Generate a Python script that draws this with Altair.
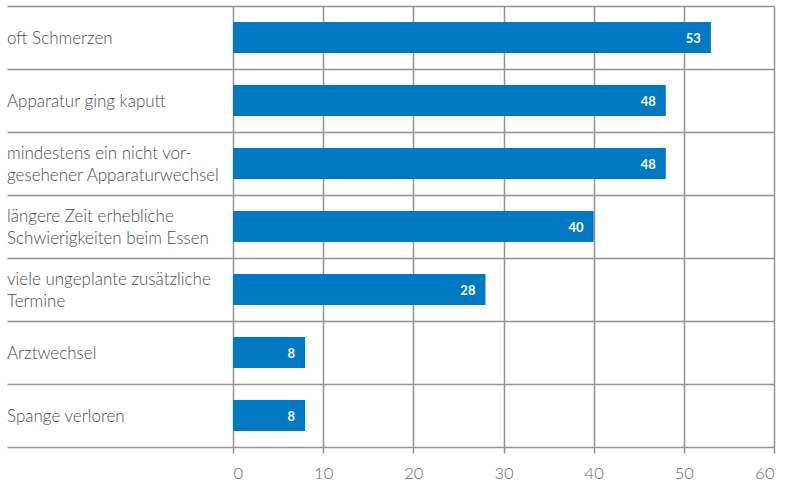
import altair as alt
import pandas as pd

categories = [
    "oft Schmerzen",
    "Apparatur ging kaputt",
    "mindestens ein nicht vor-|gesehener Apparaturwechsel",
    "längere Zeit erhebliche|Schwierigkeiten beim Essen",
    "viele ungeplante zusätzliche|Termine",
    "Arztwechsel",
    "Spange verloren",
]
values = [53, 48, 48, 40, 28, 8, 8]
x_ticks = [0, 10, 20, 30, 40, 50, 60]

df = pd.DataFrame({"cat": categories, "val": values})

GRID = "#939393"
FONT = "Lato"

y_scale = alt.Scale(paddingInner=0, paddingOuter=0)
x_scale = alt.Scale(domain=[0, 60], nice=False)

y_enc = alt.Y(
    "cat:N",
    sort=categories,
    title=None,
    scale=y_scale,
    axis=alt.Axis(
        orient="left",
        tickBand="extent",
        grid=True,
        gridColor=GRID,
        gridWidth=1.5,
        domain=False,
        ticks=True,
        tickSize=226,
        tickColor=GRID,
        tickWidth=1.5,
        labels=False,
    ),
)

x_enc = alt.X(
    "val:Q",
    title=None,
    scale=x_scale,
    axis=alt.Axis(
        values=x_ticks,
        grid=True,
        gridColor=GRID,
        gridWidth=1.5,
        domain=False,
        tickColor=GRID,
        tickSize=6,
        tickWidth=1.5,
        labelPadding=12,
        labelFont=FONT,
        labelFontSize=16.5,
        labelFontWeight=300,
        labelColor="#666666",
    ),
)

bars = alt.Chart(df).mark_bar(color="#0079C2", size=31).encode(x=x_enc, y=y_enc)

text = alt.Chart(df).mark_text(
    align="right", baseline="middle", dx=-10, dy=1,
    color="white", font=FONT, fontSize=13, fontWeight="bold",
).encode(
    x=alt.X("val:Q", scale=x_scale),
    y=alt.Y("cat:N", sort=categories),
    text="val:Q",
)

label_style = dict(
    align="left", baseline="middle", lineBreak="|", lineHeight=22,
    font=FONT, fontSize=17, fontWeight=300, color="#4d4d4d",
)

labels_single = alt.Chart(df).transform_filter(
    "indexof(datum.cat, '|') < 0"
).mark_text(dy=1, **label_style).encode(
    x=alt.value(-226),
    y=alt.Y("cat:N", sort=categories),
    text="cat:N",
)

labels_double = alt.Chart(df).transform_filter(
    "indexof(datum.cat, '|') >= 0"
).mark_text(dy=-10, **label_style).encode(
    x=alt.value(-226),
    y=alt.Y("cat:N", sort=categories),
    text="cat:N",
)

chart = (
    alt.layer(bars, text, labels_single, labels_double)
    .properties(
        width=541,
        height=441,
        autosize=alt.AutoSizeParams(type="none"),
        padding={"left": 233, "top": 6, "right": 17, "bottom": 44},
        background="white",
    )
    .configure_view(stroke=None)
)

chart.save("out.html", embed_options={"renderer": "svg", "actions": False})
